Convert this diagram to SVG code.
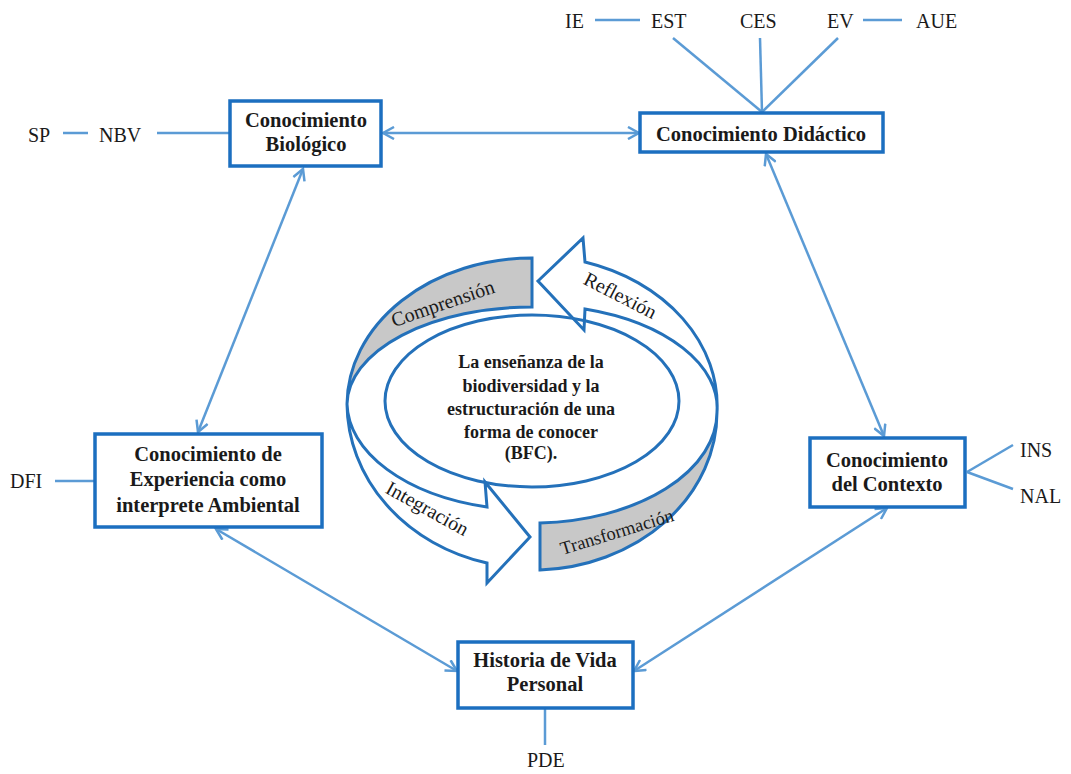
<svg xmlns="http://www.w3.org/2000/svg" width="1071" height="774" viewBox="0 0 1071 774">
  <style>
    .box { fill: #ffffff; stroke: #1c6fc0; stroke-width: 3.5; }
    .lbl { font-family: "Liberation Serif", "Times New Roman", serif; font-weight: bold; font-size: 20.5px; fill: #1a1a1a; text-anchor: middle; }
    .code { font-family: "Liberation Serif", "Times New Roman", serif; font-size: 20px; fill: #1a1a1a; }
    .link { stroke: #5b9bd5; stroke-width: 2.5; fill: none; }
    .arrow { stroke: #5b9bd5; stroke-width: 2.5; fill: none; marker-start: url(#head); marker-end: url(#head); }
    .ring { stroke: #2471ba; stroke-width: 3; stroke-linejoin: miter; }
    .gray { fill: #c8c8c8; }
    .white { fill: #ffffff; }
    .phase { font-family: "Liberation Serif", "Times New Roman", serif; font-size: 20px; fill: #1a1a1a; text-anchor: middle; }
    .core { font-family: "Liberation Serif", "Times New Roman", serif; font-weight: bold; font-size: 18px; fill: #1a1a1a; text-anchor: middle; }
  </style>
  <defs>
    <marker id="head" viewBox="0 0 14 14" refX="12" refY="7" markerWidth="14" markerHeight="14" markerUnits="userSpaceOnUse" orient="auto-start-reverse">
      <path d="M1,1 L12,7 L1,13" fill="none" stroke="#5b9bd5" stroke-width="2.5"/>
    </marker>
  </defs>
  <rect width="1071" height="774" fill="#ffffff"/>

  <!-- connectors -->
  <g id="connectors">
    <line class="arrow" x1="383" y1="133" x2="639" y2="133"/>
    <line class="arrow" x1="303" y1="169" x2="198" y2="432"/>
    <line class="arrow" x1="766" y1="154" x2="884" y2="436"/>
    <line class="arrow" x1="216" y1="529" x2="457" y2="671"/>
    <line class="arrow" x1="887" y1="508" x2="634" y2="671"/>
    <!-- code links -->
    <line class="link" x1="63" y1="133" x2="88" y2="133"/>
    <line class="link" x1="157" y1="133" x2="230" y2="133"/>
    <line class="link" x1="595" y1="20" x2="640" y2="20"/>
    <line class="link" x1="863" y1="20" x2="902" y2="20"/>
    <line class="link" x1="673" y1="38" x2="762" y2="112"/>
    <line class="link" x1="760" y1="38" x2="762" y2="112"/>
    <line class="link" x1="838" y1="38" x2="762" y2="112"/>
    <line class="link" x1="55" y1="481" x2="95" y2="481"/>
    <line class="link" x1="967" y1="472" x2="1013" y2="445"/>
    <line class="link" x1="967" y1="472" x2="1013" y2="489"/>
    <line class="link" x1="545" y1="709" x2="545" y2="745"/>
  </g>

  <!-- code labels -->
  <g id="codes">
    <text class="code" x="28" y="142">SP</text>
    <text class="code" x="99" y="142">NBV</text>
    <text class="code" x="565" y="28">IE</text>
    <text class="code" x="651" y="28">EST</text>
    <text class="code" x="740" y="28">CES</text>
    <text class="code" x="827" y="28">EV</text>
    <text class="code" x="916" y="28">AUE</text>
    <text class="code" x="10" y="488">DFI</text>
    <text class="code" x="1020" y="457">INS</text>
    <text class="code" x="1020" y="503">NAL</text>
    <text class="code" x="527" y="767">PDE</text>
  </g>

  <g id="biologico">
    <rect class="box" x="230" y="101" width="151" height="65"/>
    <text class="lbl" x="306" y="127">Conocimiento</text>
    <text class="lbl" x="306" y="151">Biológico</text>
  </g>

  <g id="didactico">
    <rect class="box" x="640" y="113" width="243" height="39"/>
    <text class="lbl" x="761" y="141">Conocimiento Didáctico</text>
  </g>

  <g id="experiencia">
    <rect class="box" x="95" y="434" width="227" height="93"/>
    <text class="lbl" x="208" y="461">Conocimiento de</text>
    <text class="lbl" x="208" y="486">Experiencia como</text>
    <text class="lbl" x="208" y="512">interprete Ambiental</text>
  </g>

  <g id="contexto">
    <rect class="box" x="810" y="438" width="155" height="69"/>
    <text class="lbl" x="887" y="467">Conocimiento</text>
    <text class="lbl" x="887" y="491">del Contexto</text>
  </g>

  <g id="historia">
    <rect class="box" x="458" y="642" width="175" height="66"/>
    <text class="lbl" x="545" y="667">Historia de Vida</text>
    <text class="lbl" x="545" y="691">Personal</text>
  </g>

  <!-- twisted ribbon cycle around the central ellipse -->
  <g id="cycle">
    <path id="comprension" class="ring gray" d="M347,404 A185,147 0 0 1 532,258 L532,307 A185,98 0 0 0 347,404 Z"/>
    <path id="reflexion" class="ring white" d="M538,281 L583,238 L585,262 A185,150 0 0 1 717,412 A185,103 0 0 0 585,309 L584,330 Z"/>
    <path id="transformacion" class="ring gray" d="M540,523 A185,111 0 0 0 717,412 A185,158 0 0 1 540,570 Z"/>
    <path id="integracion" class="ring white" d="M347,404 A185,165 0 0 0 487,563 L487,583 L530,537 L485,482 L487,507 A185,108 0 0 1 347,404 Z"/>
    <ellipse class="ring" cx="532" cy="401" rx="147" ry="86" fill="none"/>
    <text class="phase" transform="translate(443,304) rotate(-19)" y="6">Comprensión</text>
    <text class="phase" transform="translate(620,296) rotate(27)" y="6">Reflexión</text>
    <text class="phase" transform="translate(427,509) rotate(29)" y="6">Integración</text>
    <text class="phase" style="font-size:18.5px" transform="translate(617,532) rotate(-17)" y="6">Transformación</text>
  </g>

  <g id="centro">
    <text class="core" x="531" y="368">La enseñanza de la</text>
    <text class="core" x="531" y="392">biodiversidad y la</text>
    <text class="core" x="531" y="415">estructuración de una</text>
    <text class="core" x="531" y="438">forma de conocer</text>
    <text class="core" x="531" y="459">(BFC).</text>
  </g>
</svg>
